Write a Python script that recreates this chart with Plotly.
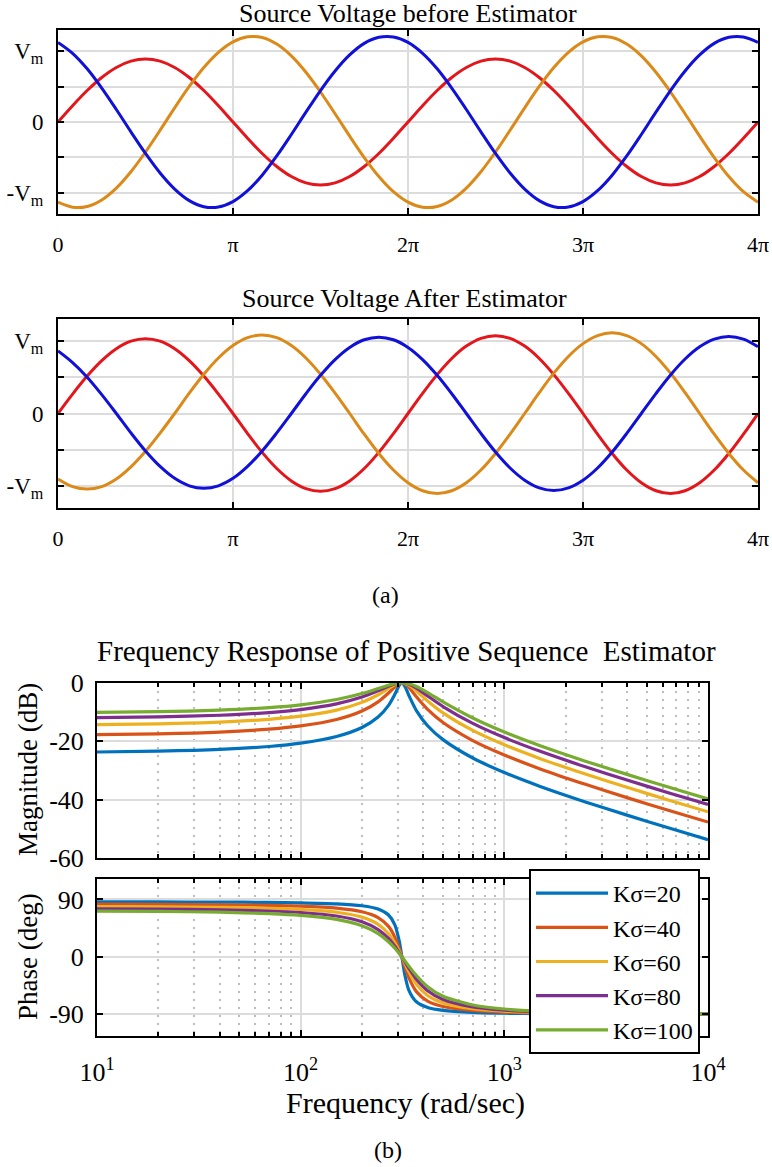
import plotly.graph_objects as go

# ---------------- data ----------------
# time axis in electrical degrees (0 .. 4*pi), sampled every 15 degrees
t_deg = list(range(0, 721, 15))
x_tickvals = [0, 180, 360, 540, 720]
x_ticktext = ["0", "π", "2π", "3π", "4π"]
y_tickvals = [-1, -0.5, 0, 0.5, 1]
y_ticktext = ["-V<sub>m</sub>", "", "0", "", "V<sub>m</sub>"]

# Source voltage before estimator (unbalanced)
before_red = [0, 0.230, 0.445, 0.629, 0.771, 0.860, 0.89, 0.860, 0.771, 0.629, 0.445, 0.230,
              0, -0.230, -0.445, -0.629, -0.771, -0.860, -0.89, -0.860, -0.771, -0.629, -0.445, -0.230,
              0, 0.230, 0.445, 0.629, 0.771, 0.860, 0.89, 0.860, 0.771, 0.629, 0.445, 0.230,
              0, -0.230, -0.445, -0.629, -0.771, -0.860, -0.89, -0.860, -0.771, -0.629, -0.445, -0.230, 0]
before_orange = [-1.133, -1.204, -1.193, -1.101, -0.934, -0.703, -0.424, -0.116, 0.200, 0.502, 0.770, 0.985,
                 1.133, 1.204, 1.193, 1.101, 0.934, 0.703, 0.424, 0.116, -0.200, -0.502, -0.770, -0.985,
                 -1.133, -1.204, -1.193, -1.101, -0.934, -0.703, -0.424, -0.116, 0.200, 0.502, 0.770, 0.985,
                 1.133, 1.204, 1.193, 1.101, 0.934, 0.703, 0.424, 0.116, -0.200, -0.502, -0.770, -0.985, -1.133]
before_blue = [1.125, 0.971, 0.752, 0.480, 0.177, -0.139, -0.445, -0.721, -0.948, -1.111, -1.197, -1.202,
               -1.125, -0.971, -0.752, -0.480, -0.177, 0.139, 0.445, 0.721, 0.948, 1.111, 1.197, 1.202,
               1.125, 0.971, 0.752, 0.480, 0.177, -0.139, -0.445, -0.721, -0.948, -1.111, -1.197, -1.202,
               -1.125, -0.971, -0.752, -0.480, -0.177, 0.139, 0.445, 0.721, 0.948, 1.111, 1.197, 1.202, 1.125]

# Source voltage after estimator (balanced)
after_red = [0, 0.267, 0.515, 0.728, 0.892, 0.995, 1.03, 0.995, 0.892, 0.728, 0.515, 0.267,
             0, -0.277, -0.535, -0.757, -0.927, -1.034, -1.07, -1.034, -0.927, -0.757, -0.535, -0.277,
             0, 0.277, 0.535, 0.757, 0.927, 1.034, 1.07, 1.034, 0.927, 0.757, 0.535, 0.277,
             0, -0.285, -0.55, -0.778, -0.953, -1.063, -1.10, -1.063, -0.953, -0.778, -0.55, -0.285, 0]
after_orange = [-0.90, -1.005, -1.04, -1.005, -0.901, -0.735, -0.52, -0.269, 0, 0.280, 0.54, 0.764,
                0.935, 1.043, 1.08, 1.043, 0.935, 0.764, 0.54, 0.280, 0, -0.285, -0.55, -0.778,
                -0.953, -1.063, -1.10, -1.063, -0.953, -0.778, -0.55, -0.285, 0, 0.287, 0.555, 0.785,
                0.961, 1.072, 1.11, 1.072, 0.961, 0.785, 0.555, 0.287, 0, -0.285, -0.55, -0.778, -0.953]
after_blue = [0.86, 0.70, 0.50, 0.26, 0, -0.267, -0.515, -0.728, -0.892, -0.995, -1.03, -0.995,
              -0.892, -0.728, -0.515, -0.267, 0, 0.272, 0.525, 0.742, 0.909, 1.014, 1.05, 1.014,
              0.909, 0.742, 0.525, 0.272, 0, -0.274, -0.53, -0.750, -0.918, -1.024, -1.06, -1.024,
              -0.918, -0.750, -0.53, -0.274, 0, 0.274, 0.53, 0.750, 0.918, 1.024, 1.06, 1.024, 0.918]

# Frequency response of positive sequence estimator
freq = [10, 20, 40, 70, 100, 150, 200, 240, 270, 290, 305, 314, 325, 340, 370, 420,
        500, 700, 1000, 1500, 2500, 4000, 6500, 10000]
k_labels = ["Kσ=20", "Kσ=40", "Kσ=60", "Kσ=80", "Kσ=100"]
mag_k20 = [-23.66, -23.37, -22.76, -21.76, -20.63, -18.34, -15.25, -11.67, -7.66, -3.87, -0.80, 0,
           -1.15, -4.30, -9.46, -14.64, -19.42, -25.72, -30.71, -35.46, -40.77, -45.31, -49.81, -53.70]
mag_k40 = [-17.69, -17.41, -16.81, -15.82, -14.72, -12.51, -9.60, -6.46, -3.44, -1.34, -0.21, 0,
           -0.32, -1.53, -4.71, -9.04, -13.55, -19.74, -24.70, -29.45, -34.75, -39.29, -43.79, -47.68]
mag_k60 = [-14.26, -13.98, -13.40, -12.44, -11.37, -9.28, -6.64, -4.02, -1.87, -0.64, -0.10, 0,
           -0.14, -0.75, -2.72, -6.15, -10.26, -16.27, -21.20, -25.93, -31.23, -35.77, -40.27, -44.16]
mag_k80 = [-11.89, -11.62, -11.05, -10.13, -9.11, -7.16, -4.82, -2.69, -1.15, -0.37, -0.05, 0,
           -0.08, -0.44, -1.73, -4.40, -8.07, -13.85, -18.72, -23.44, -28.74, -33.27, -37.77, -41.66]
mag_k100 = [-10.10, -9.84, -9.30, -8.42, -7.47, -5.67, -3.62, -1.90, -0.77, -0.24, -0.04, 0,
            -0.05, -0.28, -1.19, -3.27, -6.49, -12.01, -16.82, -21.51, -26.80, -31.33, -35.83, -39.72]
ph_k20 = [86.24, 86.11, 85.83, 85.31, 84.66, 83.05, 80.05, 74.88, 65.56, 50.19, 24.23, 0,
          -28.81, -52.43, -70.35, -79.32, -83.86, -87.03, -88.33, -89.03, -89.48, -89.69, -89.81, -89.88]
ph_k40 = [82.50, 82.25, 81.69, 80.69, 79.41, 76.29, 70.67, 61.61, 47.73, 30.96, 12.68, 0,
          -15.38, -33.02, -54.46, -69.33, -77.86, -84.08, -86.66, -88.07, -88.95, -89.38, -89.63, -89.76]
ph_k60 = [78.84, 78.47, 77.65, 76.18, 74.34, 69.90, 62.24, 50.96, 36.25, 21.80, 8.53, 0,
          -10.39, -23.43, -43.03, -60.49, -72.12, -81.16, -85.00, -87.10, -88.43, -89.07, -89.44, -89.65]
ph_k80 = [75.26, 74.78, 73.72, 71.85, 69.50, 63.99, 54.94, 42.77, 28.81, 16.70, 6.42, 0,
          -7.83, -18.00, -34.99, -52.95, -66.73, -78.29, -83.35, -86.14, -87.90, -88.76, -89.26, -89.53]
ph_k100 = [71.79, 71.21, 69.95, 67.71, 64.95, 58.63, 48.74, 36.50, 23.75, 13.50, 5.14, 0,
           -6.28, -14.57, -29.25, -46.67, -61.74, -75.48, -81.71, -85.18, -87.38, -88.45, -89.07, -89.41]
mag_series = [mag_k20, mag_k40, mag_k60, mag_k80, mag_k100]
ph_series = [ph_k20, ph_k40, ph_k60, ph_k80, ph_k100]
mag_tickvals = [-60, -40, -20, 0]
mag_ticktext = ["-60", "-40", "-20", "0"]
ph_tickvals = [-90, 0, 90]
ph_ticktext = ["-90", "0", "90"]
bode_tickvals = [10, 100, 1000, 10000]
bode_ticktext = ["10<sup>1</sup>", "10<sup>2</sup>", "10<sup>3</sup>", "10<sup>4</sup>"]
bode_minor = [20, 30, 40, 50, 60, 70, 80, 90, 200, 300, 400, 500, 600, 700, 800, 900,
              2000, 3000, 4000, 5000, 6000, 7000, 8000, 9000]

# ---------------- style ----------------
W, H = 772, 1167
FONT = "Liberation Serif, Times New Roman, serif"
wave_colors = {"red": "#E3161B", "orange": "#DB8A1A", "blue": "#1010D8"}
bode_colors = ["#0072BD", "#D95319", "#EDB120", "#7E2F8E", "#77AC30"]
GRID = "#DCDCDC"


def fx(p):
    return p / W


def fy(p):
    return 1 - p / H


fig = go.Figure()

# time-domain plots
for axn, (r, o, b) in zip(["", "2"], [(before_red, before_orange, before_blue),
                                      (after_red, after_orange, after_blue)]):
    for name, vals in [("red", r), ("orange", o), ("blue", b)]:
        fig.add_trace(go.Scatter(x=t_deg, y=vals, mode="lines", showlegend=False,
                                 line=dict(color=wave_colors[name], width=3, shape="spline", smoothing=1),
                                 xaxis="x" + axn, yaxis="y" + axn, hoverinfo="skip"))

# bode plots
for i in range(5):
    fig.add_trace(go.Scatter(x=freq, y=mag_series[i], mode="lines", name=k_labels[i], showlegend=False,
                             line=dict(color=bode_colors[i], width=3.2, shape="spline", smoothing=0.7),
                             xaxis="x3", yaxis="y3"))
for i in range(5):
    fig.add_trace(go.Scatter(x=freq, y=ph_series[i], mode="lines", name=k_labels[i], showlegend=True,
                             line=dict(color=bode_colors[i], width=3.2, shape="spline", smoothing=0.7),
                             xaxis="x4", yaxis="y4"))

common = dict(showline=True, linecolor="black", linewidth=2, mirror="ticks", ticks="inside",
              ticklen=6, tickwidth=2, tickcolor="black", showgrid=True, gridcolor=GRID,
              gridwidth=2, zeroline=False, automargin=False)

time_x = dict(common, range=[0, 720], tickmode="array", tickvals=x_tickvals, ticktext=x_ticktext,
              tickfont=dict(family=FONT, size=22, color="black"), ticklabelstandoff=10,
              domain=[fx(58), fx(758)])
time_y = dict(common, range=[-1.3, 1.3], tickmode="array", tickvals=y_tickvals, ticktext=y_ticktext,
              tickfont=dict(family=FONT, size=23, color="black"), ticklabelstandoff=8)

minor = dict(tickmode="array", tickvals=bode_minor, ticks="inside", ticklen=4, tickwidth=1.5,
             tickcolor="black", showgrid=True, gridcolor="#BDBDBD", gridwidth=1.5, griddash="2px,6px")
bode_x = dict(common, type="log", range=[1, 4], tickmode="array", tickvals=bode_tickvals,
              ticktext=bode_ticktext, tickfont=dict(family=FONT, size=26, color="black"),
              minor=minor, domain=[fx(97), fx(708)])

fig.update_layout(
    template="none",
    width=W, height=H, margin=dict(l=0, r=0, t=0, b=0, autoexpand=False),
    paper_bgcolor="white", plot_bgcolor="white",
    xaxis=dict(time_x, anchor="y"),
    yaxis=dict(time_y, anchor="x", domain=[fy(214), fy(30)]),
    xaxis2=dict(time_x, anchor="y2"),
    yaxis2=dict(time_y, anchor="x2", domain=[fy(508), fy(319)]),
    xaxis3=dict(bode_x, anchor="y3", showticklabels=False),
    yaxis3=dict(common, anchor="x3", range=[-60, 0], tickmode="array", tickvals=mag_tickvals,
                ticktext=mag_ticktext,
                tickfont=dict(family=FONT, size=26, color="black"), ticklabelstandoff=6,
                domain=[fy(858), fy(683)]),
    xaxis4=dict(bode_x, anchor="y4", ticklabelstandoff=12),
    yaxis4=dict(common, anchor="x4", range=[-124, 122], tickmode="array", tickvals=ph_tickvals,
                ticktext=ph_ticktext,
                tickfont=dict(family=FONT, size=26, color="black"), ticklabelstandoff=6,
                domain=[fy(1036), fy(879)]),
    legend=dict(x=fx(529), y=fy(869), xanchor="left", yanchor="top", bgcolor="white",
                bordercolor="black", borderwidth=2, font=dict(family=FONT, size=24, color="black"),
                tracegroupgap=0, itemwidth=72),
    font=dict(family=FONT, color="black"),
)


def ann(text, x, y, size, angle=0):
    fig.add_annotation(text=text, x=fx(x), y=fy(y), xref="paper", yref="paper", showarrow=False,
                       xanchor="center", yanchor="middle", textangle=angle,
                       font=dict(family=FONT, size=size, color="black"))


ann("Source Voltage before Estimator", 408, 13, 26)
ann("Source Voltage After Estimator", 404, 298, 26)
ann("(a)", 385, 595, 24)
ann("Frequency Response of Positive Sequence\u00a0 Estimator", 406, 651, 29)
ann("Magnitude (dB)", 28, 770, 27, -90)
ann("Phase (deg)", 28, 957, 27, -90)
ann("Frequency (rad/sec)", 405, 1103, 30)
ann("(b)", 388, 1150, 24)

# remove the default page margin so the figure sits at the page's top-left corner
fig.write_html("out.html", config={"displayModeBar": False},
               post_script="document.body.style.margin='0px';")
